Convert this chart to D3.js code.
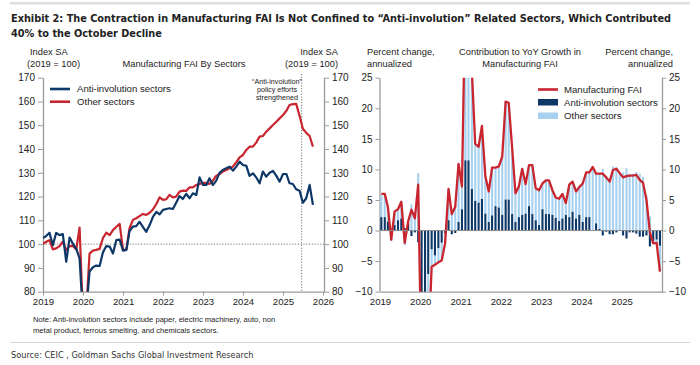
<!DOCTYPE html>
<html><head><meta charset="utf-8">
<script src="https://cdn.jsdelivr.net/npm/d3@7"></script>
<style>
body{margin:0;background:#fff}
svg{display:block}
text{font-family:"Liberation Sans",Arial,sans-serif;fill:#222}
</style></head><body>
<svg id="c" width="700" height="365"></svg>
<script>
// ---------------- DATA ----------------
// Left panel: monthly index, Jan 2019 .. Oct 2025 (2019 = 100)
const leftStart = new Date(2019, 0, 1), leftEnd = new Date(2025, 10, 1);
const leftMonths = d3.timeMonths(leftStart, leftEnd);
const antiIndex = [
  102.5,103.5,104.8,99.5,104.7,103.8,104.2,92.6,102.8,100.2,98.0,94.0,
  70,72,88.5,90.3,91.0,90.8,96.5,99.2,99.0,96.1,101.7,101.9,
  97.3,97.6,105.5,107.4,107.6,109.4,107.3,105.2,108.0,111.5,113.6,112.5,
  114.4,114.8,115.1,114.8,117.4,120.2,119.0,121.1,119.3,121.4,120.7,128.1,
  124.9,124.9,127.7,124.9,126.6,130.0,131.2,131.9,132.6,130.9,132.6,134.7,
  133.3,132.9,128.7,129.8,128.1,125.6,130.5,128.4,130.0,130.8,128.7,126.3,
  129.5,129.5,125.6,125.3,123.1,122.5,117.4,119.3,124.9,116.5
];
const otherIndex = [
  100.1,101.0,101.7,97.8,98.2,99.2,101.0,97.5,99.2,99.2,97.8,107.0,
  70,73,96.0,97.3,97.6,98.0,102.5,104.8,103.8,105.9,107.3,108.5,
  97.5,97.8,106.7,110.2,110.9,111.8,112.7,112.3,113.2,114.6,116.9,119.7,
  118.6,118.9,120.7,119.7,120.0,122.1,122.5,122.4,123.9,123.9,124.9,125.3,
  125.8,125.8,125.3,126.7,128.7,129.5,130.5,131.2,131.9,132.6,134.5,136.5,
  137.5,139.6,141.0,141.0,142.7,145.2,145.5,147.3,148.7,150.1,151.5,152.9,
  154.3,156.1,158.5,158.9,159.0,154.0,148.5,146.8,145.5,141.0
];
const leftTicks = [80,90,100,110,120,130,140,150,160,170];
const policyDate = new Date(2025, 5, 20);

// Right panel: monthly contributions, Jan 2019 .. Dec 2025 (percent)
const rightMonths = d3.timeMonths(new Date(2019, 0, 1), new Date(2026, 0, 1));
const manufFAI = [
  6.0,6.0,3.9,-1.5,3.1,3.5,4.7,-2.0,1.5,3.4,2.0,7.5,
  -24,-28,-20,-5.9,-5.6,-5.2,-4.9,-2.1,6.8,2.7,3.9,10.9,
  7.2,40,36,26,14.2,13.7,17.1,8.9,6.4,10.3,10.3,10.5,
  12.1,21.1,20.9,13.5,6.1,7.2,10.1,7.6,10.7,10.7,6.9,6.6,
  7.7,8.2,8.2,6.6,5.4,5.2,6.0,4.5,7.5,8.0,6.4,7.1,
  7.7,9.5,9.5,10.4,9.3,9.3,9.3,8.7,8.0,9.9,10.1,9.4,
  8.7,8.9,9.0,9.0,9.1,8.3,7.8,5.0,-0.3,-2.1,-2.0,-6.7
];
const antiContrib = [
  2.2,2.2,1.5,0.2,0.9,1.7,2.0,0.4,1.2,-0.9,-0.3,-1.9,
  -14,-13,-7.1,-3.1,-4.1,-2.9,-2.0,-0.5,1.7,-0.6,-0.4,1.4,
  3.5,11.5,11.5,6.8,4.9,4.6,5.2,2.8,1.4,2.5,4.0,3.8,
  2.6,5.1,5.1,2.7,1.4,2.2,2.6,2.8,4.0,2.7,1.7,0.9,
  3.5,2.7,2.7,2.6,2.1,1.6,2.0,2.6,2.2,3.1,2.0,2.6,
  1.4,2.2,2.2,0.1,1.2,0.3,-0.8,-0.2,-0.6,-0.6,-0.3,0.0,
  -0.8,-1.3,-0.3,-0.3,-0.5,-1.0,-1.0,-0.8,-2.6,-1.8,-1.5,-2.5
];
const otherContrib = [
  3.6,3.5,2.4,-1.7,2.2,1.8,2.7,-2.4,0.3,4.3,2.3,9.4,
  -10,-15,-12.9,-2.8,-1.5,-2.3,-2.9,-1.6,5.1,3.3,4.3,9.5,
  3.7,28.5,24.5,19.2,9.3,9.1,11.9,6.1,5.0,7.8,6.3,6.7,
  9.5,16.0,15.8,10.8,4.7,5.0,7.5,4.8,6.7,8.0,5.2,5.7,
  4.2,5.5,5.5,4.0,3.3,3.6,4.0,1.9,5.3,4.9,4.4,4.5,
  6.3,7.3,7.3,10.3,8.1,9.0,10.1,8.9,8.6,10.5,10.4,9.4,
  9.5,10.2,9.3,9.3,9.6,9.3,8.8,5.8,2.3,-0.3,-0.5,-4.2
];
const rightTicks = [-10,-5,0,5,10,15,20,25];

const titleLines = [
  "Exhibit 2: The Contraction in Manufacturing FAI Is Not Confined to \u201cAnti-involution\u201d Related Sectors, Which Contributed",
  "40% to the October Decline"
];
const annotationLines = ["\u201cAnti-involution\u201d", "policy efforts", "strengthened"];
const noteLines = [
  "Note: Anti-involution sectors include paper, electric machinery, auto, non",
  "metal product, ferrous smelting, and chemicals sectors."
];
const sourceText = "Source: CEIC , Goldman Sachs Global Investment Research";

// ---------------- STYLE ----------------
const NAVY = "#0c3766", RED = "#c8252f", LIGHT = "#a8d1f0", AXIS = "#9b9b9b";
const svg = d3.select("#c");
const COND = '"Liberation Sans Narrow","DejaVu Sans Condensed",sans-serif';

// fit a text to a target width by adjusting its font size
function fitWidth(sel, target, baseSize) {
  sel.style("font-size", baseSize + "px");
  const w = sel.node().getComputedTextLength();
  sel.style("font-size", (baseSize * target / w).toFixed(2) + "px");
}

// header rule + title
svg.append("rect").attr("x", 10).attr("y", 2).attr("width", 680).attr("height", 2.5).attr("fill", "#dedede");
const tl = svg.selectAll("text.title").data(titleLines).join("text")
  .attr("class", "title").attr("x", 11).attr("y", (d, i) => 22 + i * 15)
  .style("font-family", COND).style("font-weight", "bold")
  .style("fill", "#222").text(d => d);
fitWidth(d3.select(tl.nodes()[0]), 660, 13);
d3.select(tl.nodes()[1]).style("font-size", d3.select(tl.nodes()[0]).style("font-size"));

// ---------------- LEFT PANEL ----------------
const xL = d3.scaleTime().domain([new Date(2019, 0, 1), new Date(2026, 0, 1)]).range([43, 323]);
const yL = d3.scaleLinear().domain([80, 170]).range([291.7, 77.7]);

function styleAxis(g, fs) {
  g.select(".domain").attr("stroke", AXIS).attr("stroke-width", 1.3);
  g.selectAll(".tick line").attr("stroke", AXIS).attr("stroke-width", 1);
  g.selectAll(".tick text").style("font-size", fs + "px").style("fill", "#222").style("font-family", '"Liberation Sans",Arial,sans-serif');
}

svg.append("g").attr("transform", "translate(43,0)")
  .call(d3.axisLeft(yL).tickValues(leftTicks).tickSize(5).tickSizeOuter(0).tickPadding(3))
  .call(g => styleAxis(g, 10));
svg.append("g").attr("transform", "translate(324,0)")
  .call(d3.axisRight(yL).tickValues(leftTicks).tickSize(5).tickSizeOuter(0).tickPadding(3))
  .call(g => styleAxis(g, 10));
svg.append("g").attr("transform", "translate(0,291.7)")
  .call(d3.axisBottom(xL).ticks(d3.timeYear.every(1)).tickFormat(d3.timeFormat("%Y")).tickSize(4).tickSizeOuter(0).tickPadding(2))
  .call(g => styleAxis(g, 9.6));

// reference lines
svg.append("line").attr("x1", 43).attr("x2", 324).attr("y1", yL(100)).attr("y2", yL(100))
  .attr("stroke", "#777").attr("stroke-width", 1).attr("stroke-dasharray", "1.2,1.6");
svg.append("line").attr("x1", xL(policyDate)).attr("x2", xL(policyDate)).attr("y1", 74).attr("y2", 291.7)
  .attr("stroke", "#777").attr("stroke-width", 1).attr("stroke-dasharray", "1.2,1.6");

svg.append("clipPath").attr("id", "clipL").append("rect").attr("x", 43).attr("y", 75).attr("width", 281).attr("height", 216.7);
const lineL = d3.line().x((d, i) => xL(leftMonths[i])).y(d => yL(d));
const gL = svg.append("g").attr("clip-path", "url(#clipL)");
gL.append("path").datum(otherIndex).attr("d", lineL).attr("fill", "none").attr("stroke", RED).attr("stroke-width", 2.2).attr("stroke-linejoin", "round");
gL.append("path").datum(antiIndex).attr("d", lineL).attr("fill", "none").attr("stroke", NAVY).attr("stroke-width", 2.2).attr("stroke-linejoin", "round");

// headers
const hdr = (x, y, t, anchor, fs) => svg.append("text").attr("x", x).attr("y", y).attr("text-anchor", anchor)
  .style("font-size", (fs || 9.3) + "px").style("fill", "#222").text(t);
hdr(30, 55, "Index SA", "start");
hdr(27, 67, "(2019 = 100)", "start");
hdr(338, 55, "Index SA", "end");
hdr(338, 67, "(2019 = 100)", "end");
hdr(184, 67, "Manufacturing FAI By Sectors", "middle");

// annotation
annotationLines.forEach((t, i) =>
  svg.append("text").attr("x", 277).attr("y", 84 + i * 8) .attr("text-anchor", "middle")
    .style("font-size", "7.2px").style("fill", "#222").text(t));

// left legend
[["Anti-involution sectors", NAVY], ["Other sectors", RED]].forEach(([t, c], i) => {
  const y = 89 + i * 12.7;
  svg.append("line").attr("x1", 50).attr("x2", 70).attr("y1", y).attr("y2", y).attr("stroke", c).attr("stroke-width", 2.6);
  svg.append("text").attr("x", 77).attr("y", y + 3.4).style("font-size", "9.6px").style("fill", "#222").text(t);
});

// note
noteLines.forEach((t, i) => svg.append("text").attr("x", 33).attr("y", 322 + i * 11)
  .style("font-size", "7.6px").style("fill", "#222").text(t));

// ---------------- RIGHT PANEL ----------------
const xR = d3.scaleTime().domain([new Date(2019, 0, 1), new Date(2026, 0, 1)]).range([380, 662]);
const yR = d3.scaleLinear().domain([-10, 25]).range([291.7, 77.7]);

svg.append("g").attr("transform", "translate(379.5,0)")
  .call(d3.axisLeft(yR).tickValues(rightTicks).tickSize(4).tickSizeOuter(0).tickPadding(3))
  .call(g => styleAxis(g, 10));
svg.append("g").attr("transform", "translate(662,0)")
  .call(d3.axisRight(yR).tickValues(rightTicks).tickSize(4).tickSizeOuter(0).tickPadding(3))
  .call(g => styleAxis(g, 10));
svg.append("g").attr("transform", "translate(0,291.7)")
  .call(d3.axisBottom(xR).ticks(d3.timeYear.every(1)).tickFormat(d => d.getFullYear() < 2026 ? d3.timeFormat("%Y")(d) : "").tickSize(0).tickSizeOuter(0).tickPadding(6))
  .call(g => styleAxis(g, 9.6));

svg.append("clipPath").attr("id", "clipR").append("rect").attr("x", 380).attr("y", 77.7).attr("width", 282).attr("height", 214);

const rows = rightMonths.map((d, i) => ({date: d, anti: antiContrib[i], other: otherContrib[i]}));
const stack = d3.stack().keys(["anti", "other"]).offset(d3.stackOffsetDiverging)(rows);
const gR = svg.append("g").attr("clip-path", "url(#clipR)");
const bw = 2.1;
stack.forEach((layer, li) => {
  gR.append("g").attr("fill", li === 0 ? NAVY : LIGHT)
    .selectAll("rect").data(layer).join("rect")
    .attr("x", d => xR(d.data.date) + 0.3)
    .attr("width", bw)
    .attr("y", d => yR(Math.max(d[0], d[1])))
    .attr("height", d => Math.abs(yR(d[0]) - yR(d[1])));
});
svg.append("line").attr("x1", 380).attr("x2", 662).attr("y1", yR(0)).attr("y2", yR(0)).attr("stroke", "#8a8a8a").attr("stroke-width", 1);
const lineR = d3.line().x((d, i) => xR(rightMonths[i]) + 1.35).y(d => yR(d));
gR.append("path").datum(manufFAI).attr("d", lineR).attr("fill", "none").attr("stroke", RED).attr("stroke-width", 2.3).attr("stroke-linejoin", "round");

hdr(367, 55, "Percent change,", "start");
hdr(367, 67, "annualized", "start");
hdr(673, 55, "Percent change,", "end");
hdr(673, 67, "annualized", "end");
hdr(520, 55, "Contribution to YoY Growth in", "middle");
hdr(520, 67, "Manufacturing FAI", "middle");

// right legend
const lgx = 538;
svg.append("line").attr("x1", lgx).attr("x2", lgx + 20).attr("y1", 89.5).attr("y2", 89.5).attr("stroke", RED).attr("stroke-width", 2.6);
svg.append("rect").attr("x", lgx).attr("y", 99).attr("width", 20).attr("height", 6.5).attr("fill", NAVY);
svg.append("rect").attr("x", lgx).attr("y", 112.5).attr("width", 20).attr("height", 6.5).attr("fill", LIGHT);
[["Manufacturing FAI", 89.5], ["Anti-involution sectors", 102.3], ["Other sectors", 115.8]].forEach(([t, y]) =>
  svg.append("text").attr("x", 564).attr("y", y + 3.4).style("font-size", "9.6px").style("fill", "#222").text(t));

// footer
svg.append("rect").attr("x", 10).attr("y", 342).attr("width", 680).attr("height", 1).attr("fill", "#d6d6d6");
const src = svg.append("text").attr("x", 11).attr("y", 358).style("font-family", COND)
  .style("fill", "#333").text(sourceText);
fitWidth(src, 243, 10.5);
</script>
</body></html>
